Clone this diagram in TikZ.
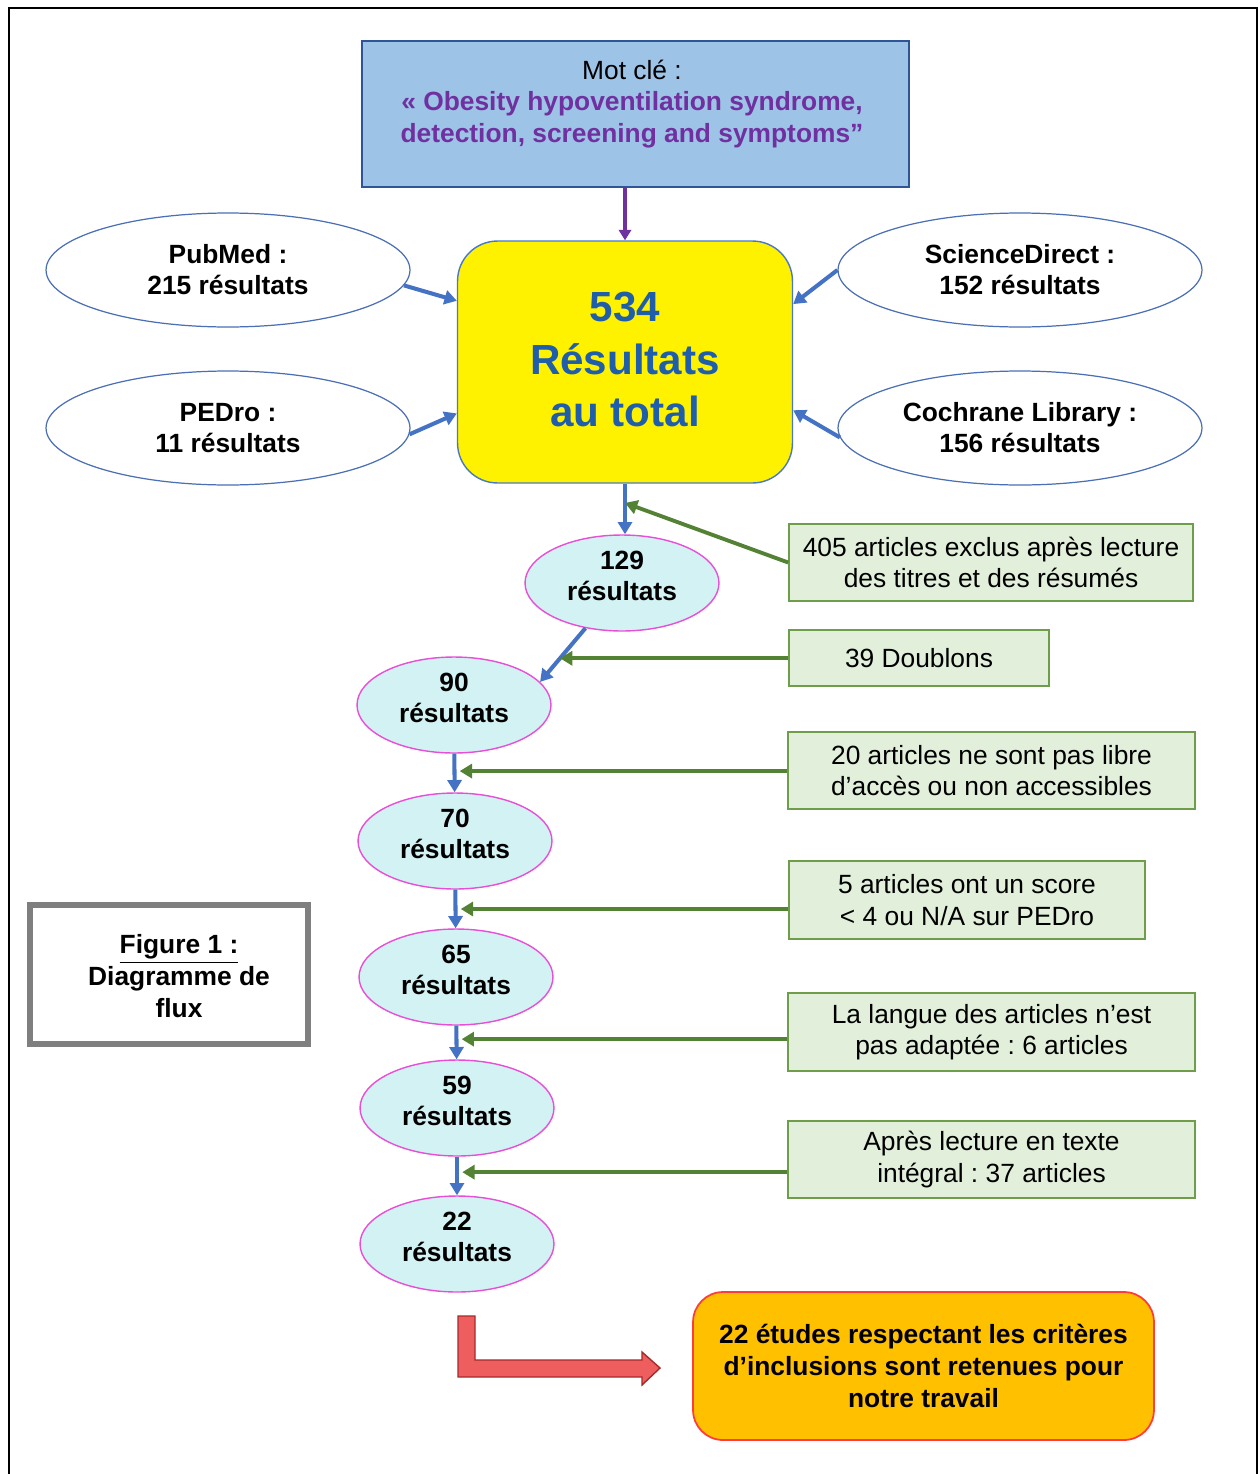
\documentclass[tikz,border=0pt]{standalone}
\usepackage{fontspec}
\setmainfont{Liberation Sans}
\usetikzlibrary{shapes.geometric,arrows.meta,calc}
\frenchspacing

\definecolor{keyfill}{HTML}{9DC3E6}
\definecolor{keyline}{HTML}{2F5597}
\definecolor{keytext}{HTML}{7030A0}
\definecolor{totalline}{HTML}{4A78C8}
\definecolor{totaltext}{HTML}{1F5EAA}
\definecolor{sourceline}{HTML}{4A6FB5}
\definecolor{resultfill}{HTML}{D3F2F4}
\definecolor{resultline}{HTML}{E84FD6}
\definecolor{exclfill}{HTML}{E2EFDA}
\definecolor{exclline}{HTML}{6E9E4A}
\definecolor{excldraw}{HTML}{548235}
\definecolor{flowblue}{HTML}{4472C4}
\definecolor{finalfill}{HTML}{FFC000}
\definecolor{finalline}{HTML}{FF3B3B}
\definecolor{bendfill}{HTML}{EE5E5E}
\definecolor{bendline}{HTML}{A52A2A}
\definecolor{figline}{HTML}{7F7F7F}

\begin{document}
\begin{tikzpicture}[x=0.02cm,y=-0.02cm,
  keybox/.style={draw=keyline,fill=keyfill,line width=0.8pt,minimum width=10.94cm,minimum height=2.92cm,inner sep=0pt},
  totalbox/.style={draw=totalline,fill=yellow,line width=0.8pt,rounded corners=0.8cm,minimum width=6.7cm,minimum height=4.84cm,align=center,text=totaltext,text depth=3pt,font=\bfseries\fontsize{24}{29.8}\selectfont},
  sourcenode/.style={ellipse,draw=sourceline,fill=white,line width=0.7pt,minimum width=7.28cm,minimum height=2.28cm,inner sep=0pt,align=center,font=\bfseries\fontsize{15}{17.6}\selectfont},
  resultnode/.style={ellipse,draw=resultline,fill=resultfill,line width=0.8pt,minimum width=3.88cm,minimum height=1.92cm,inner sep=0pt,align=center,text depth=8pt,font=\bfseries\fontsize{15}{17.6}\selectfont},
  exclbox/.style={draw=exclline,fill=exclfill,line width=1pt,minimum height=1.54cm,inner sep=0pt,align=center,font=\fontsize{15}{18}\selectfont},
  finalbox/.style={draw=finalline,fill=finalfill,line width=1pt,rounded corners=0.6cm,minimum width=9.22cm,minimum height=2.96cm,inner sep=0pt,align=center,font=\bfseries\fontsize{15}{18}\selectfont},
  figbox/.style={draw=figline,line width=3.4pt,minimum width=5.56cm,minimum height=2.78cm,inner sep=0pt},
  flowarrow/.style={draw=flowblue,line width=2.3pt,-{Triangle[length=7pt,width=8pt]}},
  exclarrow/.style={draw=excldraw,line width=2.2pt,-{Triangle[length=7pt,width=8pt]}},
  keyarrow/.style={draw=keytext,line width=1.9pt,-{Triangle[length=6pt,width=7pt]}}]

  \useasboundingbox (0,0) rectangle (1260,1474);

  % Drawing frame
  \draw [line width=1.6pt] (9,1474) |- (1257,8) -- (1257,1474);%

  % Marking keyword box
  \node (motcle) [keybox] at (635.5,114) {};%
  \node (motcletext) [align=center,font=\fontsize{15}{18}\selectfont] at (632,104)
    {Mot clé  :\\
     \textcolor{keytext}{\bfseries « Obesity hypoventilation syndrome,}\\
     \textcolor{keytext}{\bfseries detection, screening and symptoms”}};%

  % Marking total box
  \node (total) [totalbox] at (625,362) {534\\Résultats\\au total};%

  % Marking databases
  \node (pubmed) [sourcenode] at (228,270) {PubMed :\\215 résultats};%
  \node (pedro) [sourcenode] at (228,428) {PEDro :\\11 résultats};%
  \node (scidir) [sourcenode] at (1020,270) {ScienceDirect :\\152 résultats};%
  \node (cochrane) [sourcenode] at (1020,428) {Cochrane Library :\\156 résultats};%

  % Marking results
  \node (r129) [resultnode] at (622,583) {129\\résultats};%
  \node (r90) [resultnode] at (454,705) {90\\résultats};%
  \node (r70) [resultnode] at (455,841) {70\\résultats};%
  \node (r65) [resultnode] at (456,977) {65\\résultats};%
  \node (r59) [resultnode] at (457,1108) {59\\résultats};%
  \node (r22) [resultnode] at (457,1244) {22\\résultats};%

  % Marking exclusions
  \node (g405) [exclbox,minimum width=8.08cm] at (991,562.5) {405 articles exclus après lecture\\des titres et des résumés};%
  \node (g39) [exclbox,minimum width=5.2cm,minimum height=1.12cm] at (919,658) {39 Doublons};%
  \node (g20) [exclbox,minimum width=8.14cm] at (991.5,770.5) {20 articles ne sont pas libre\\d’accès ou non accessibles};%
  \node (g5) [exclbox,minimum width=7.12cm,minimum height=1.56cm] at (967,900) {5 articles ont un score\\< 4 ou N/A sur PEDro};%
  \node (g6) [exclbox,minimum width=8.14cm,minimum height=1.56cm] at (991.5,1032) {La langue des articles n’est\\pas adaptée : 6 articles};%
  \node (g37) [exclbox,minimum width=8.14cm] at (991.5,1159.5) {Après lecture en texte\\intégral : 37 articles};%

  % Marking final box
  \node (final) [finalbox] at (923.5,1366) {22 études respectant les critères\\d’inclusions sont retenues pour\\notre travail};%

  % Marking figure caption
  \node (caption) [figbox] at (169,974.5) {};%
  \node (captiontext) [align=center,font=\bfseries\fontsize{15}{18}\selectfont] at (179,976) {\underline{Figure 1 :}\\Diagramme de\\flux};%

  % Drawing arrow keyword total
  \draw [keyarrow] (total.north |- motcle.south) -- (total.north);%

  % Drawing arrows databases total
  \draw [flowarrow] (pubmed.-5) -- (total.160);%
  \draw [flowarrow] (pedro.-2) -- (total.197);%
  \draw [flowarrow] (scidir.west) -- (total.19);%
  \draw [flowarrow] (cochrane.183) -- (total.-16);%

  % Drawing arrows results
  \draw [flowarrow] (total.south) -- (total.south |- r129.north);%
  \draw [flowarrow] (r129.-129) -- (r90.15);%
  \draw [flowarrow] (r90) -- (r70);%
  \draw [flowarrow] (r70) -- (r65);%
  \draw [flowarrow] (r65) -- (r59);%
  \draw [flowarrow] (r59) -- (r22);%

  % Marking cut points
  \coordinate (cut405) at ($(total.south)!0.38!(total.south |- r129.north)$);%
  \coordinate (cut39) at ($(r129.-129)!0.56!(r90.15)$);%
  \coordinate (cut20) at ($(r90.south)!0.45!(r70.north)$);%
  \coordinate (cut5) at ($(r70.south)!0.5!(r65.north)$);%
  \coordinate (cut6) at ($(r65.south)!0.4!(r59.north)$);%
  \coordinate (cut37) at ($(r59.south)!0.4!(r22.north)$);%

  % Drawing arrows exclusions
  \draw [exclarrow] (g405.west) -- (cut405);%
  \draw [exclarrow] (g39.west |- cut39) -- (cut39);%
  \draw [exclarrow] (g20.west |- cut20) -- ([xshift=3pt]cut20);%
  \draw [exclarrow] (g5.west |- cut5) -- ([xshift=3pt]cut5);%
  \draw [exclarrow] (g6.west |- cut6) -- ([xshift=3pt]cut6);%
  \draw [exclarrow] (g37.west |- cut37) -- ([xshift=3pt]cut37);%

  % Drawing bent arrow
  \draw [fill=bendfill,draw=bendline,line width=0.8pt] (458,1316) -- (475,1316) -- (475,1360) -- (642,1360) -- (642,1352)
    -- (660,1368) -- (642,1385) -- (642,1377) -- (458,1377) -- cycle;%
\end{tikzpicture}
\end{document}
